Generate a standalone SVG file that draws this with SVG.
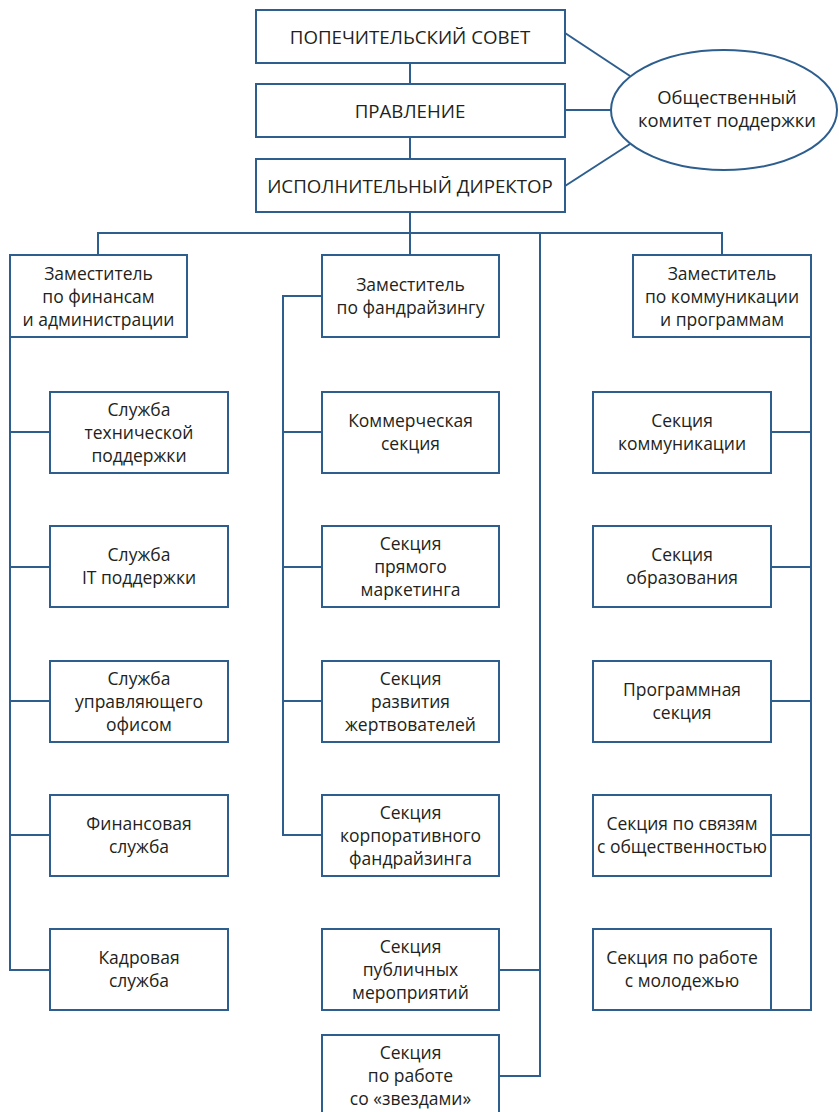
<svg xmlns="http://www.w3.org/2000/svg" width="839" height="1112" viewBox="0 0 839 1112">
<style>
.b{fill:#fff;stroke:#2d5e8e;stroke-width:2}
.c{fill:none;stroke:#2d5e8e;stroke-width:2}
text{font-family:"Open Sans","Noto Sans","DejaVu Sans",sans-serif;font-size:17.5px;fill:#231f20;text-anchor:middle}
.u{font-size:18.7px}
.e{font-size:18.4px}
</style>
<rect width="839" height="1112" fill="#fff"/>
<g id="connectors" class="c">
<line x1="410" y1="63" x2="410" y2="84"/>
<line x1="410" y1="137" x2="410" y2="159"/>
<polyline points="410,212 410,233"/>
<polyline points="98,255 98,233 722,233 722,255"/>
<line x1="410" y1="233" x2="410" y2="255"/>
<polyline points="540,233 540,1076 499,1076"/>
<line x1="499" y1="970" x2="540" y2="970"/>
<line x1="565" y1="33" x2="630" y2="76"/>
<line x1="565" y1="110" x2="611" y2="110"/>
<line x1="565" y1="186" x2="630" y2="144"/>
<polyline points="10,337 10,970 50,970"/>
<line x1="10" y1="432" x2="50" y2="432"/>
<line x1="10" y1="567" x2="50" y2="567"/>
<line x1="10" y1="701" x2="50" y2="701"/>
<line x1="10" y1="835" x2="50" y2="835"/>
<polyline points="322,296 283,296 283,835 322,835"/>
<line x1="283" y1="432" x2="322" y2="432"/>
<line x1="283" y1="567" x2="322" y2="567"/>
<line x1="283" y1="701" x2="322" y2="701"/>
<polyline points="811,337 811,1010 771,1010"/>
<line x1="771" y1="432" x2="811" y2="432"/>
<line x1="771" y1="567" x2="811" y2="567"/>
<line x1="771" y1="701" x2="811" y2="701"/>
<line x1="771" y1="835" x2="811" y2="835"/>
</g>
<g id="n-sovet"><rect class="b" x="256" y="10" width="309" height="53"/><text class="u" x="410" y="43.5">ПОПЕЧИТЕЛЬСКИЙ СОВЕТ</text></g>
<g id="n-pravlenie"><rect class="b" x="256" y="84" width="309" height="53"/><text class="u" x="410" y="117.5">ПРАВЛЕНИЕ</text></g>
<g id="n-director"><rect class="b" x="256" y="159" width="309" height="53"/><text class="u" x="410" y="192.5">ИСПОЛНИТЕЛЬНЫЙ ДИРЕКТОР</text></g>
<g id="n-komitet"><ellipse class="b" cx="724" cy="110" rx="113" ry="60"/><text class="e" x="727" y="104">Общественный</text><text class="e" x="727" y="127">комитет поддержки</text></g>
<g id="n-zam-fin"><rect class="b" x="10" y="255" width="177" height="82"/><text x="98.5" y="280">Заместитель</text><text x="98.5" y="303">по финансам</text><text x="98.5" y="326">и администрации</text></g>
<g id="n-zam-fund"><rect class="b" x="322" y="255" width="177" height="82"/><text x="410.5" y="291">Заместитель</text><text x="410.5" y="314">по фандрайзингу</text></g>
<g id="n-zam-kom"><rect class="b" x="633" y="255" width="178" height="82"/><text x="722" y="280">Заместитель</text><text x="722" y="303">по коммуникации</text><text x="722" y="326">и программам</text></g>
<g id="n-tech"><rect class="b" x="50" y="392" width="178" height="81"/><text x="139" y="415.5">Служба</text><text x="139" y="438.5">технической</text><text x="139" y="461.5">поддержки</text></g>
<g id="n-it"><rect class="b" x="50" y="526" width="178" height="81"/><text x="139" y="561">Служба</text><text x="139" y="584">IT поддержки</text></g>
<g id="n-office"><rect class="b" x="50" y="661" width="178" height="81"/><text x="139" y="684.5">Служба</text><text x="139" y="707.5">управляющего</text><text x="139" y="730.5">офисом</text></g>
<g id="n-fin"><rect class="b" x="50" y="795" width="178" height="81"/><text x="139" y="830">Финансовая</text><text x="139" y="853">служба</text></g>
<g id="n-kadr"><rect class="b" x="50" y="929" width="178" height="81"/><text x="139" y="964">Кадровая</text><text x="139" y="987">служба</text></g>
<g id="n-komm"><rect class="b" x="322" y="392" width="177" height="81"/><text x="410.5" y="427">Коммерческая</text><text x="410.5" y="450">секция</text></g>
<g id="n-direct"><rect class="b" x="322" y="526" width="177" height="81"/><text x="410.5" y="549.5">Секция</text><text x="410.5" y="572.5">прямого</text><text x="410.5" y="595.5">маркетинга</text></g>
<g id="n-donors"><rect class="b" x="322" y="661" width="177" height="81"/><text x="410.5" y="684.5">Секция</text><text x="410.5" y="707.5">развития</text><text x="410.5" y="730.5">жертвователей</text></g>
<g id="n-corp"><rect class="b" x="322" y="795" width="177" height="81"/><text x="410.5" y="818.5">Секция</text><text x="410.5" y="841.5">корпоративного</text><text x="410.5" y="864.5">фандрайзинга</text></g>
<g id="n-events"><rect class="b" x="322" y="929" width="177" height="81"/><text x="410.5" y="952.5">Секция</text><text x="410.5" y="975.5">публичных</text><text x="410.5" y="998.5">мероприятий</text></g>
<g id="n-stars"><rect class="b" x="322" y="1035" width="177" height="82"/><text x="410.5" y="1058.5">Секция</text><text x="410.5" y="1081.5">по работе</text><text x="410.5" y="1104.5">со «звездами»</text></g>
<g id="n-sec-komm"><rect class="b" x="593" y="392" width="178" height="81"/><text x="682" y="427">Секция</text><text x="682" y="450">коммуникации</text></g>
<g id="n-edu"><rect class="b" x="593" y="526" width="178" height="81"/><text x="682" y="561">Секция</text><text x="682" y="584">образования</text></g>
<g id="n-prog"><rect class="b" x="593" y="661" width="178" height="81"/><text x="682" y="696">Программная</text><text x="682" y="719">секция</text></g>
<g id="n-pr"><rect class="b" x="593" y="795" width="178" height="81"/><text x="682" y="830">Секция по связям</text><text x="682" y="853">с общественностью</text></g>
<g id="n-youth"><rect class="b" x="593" y="929" width="178" height="81"/><text x="682" y="964">Секция по работе</text><text x="682" y="987">с молодежью</text></g>
</svg>
